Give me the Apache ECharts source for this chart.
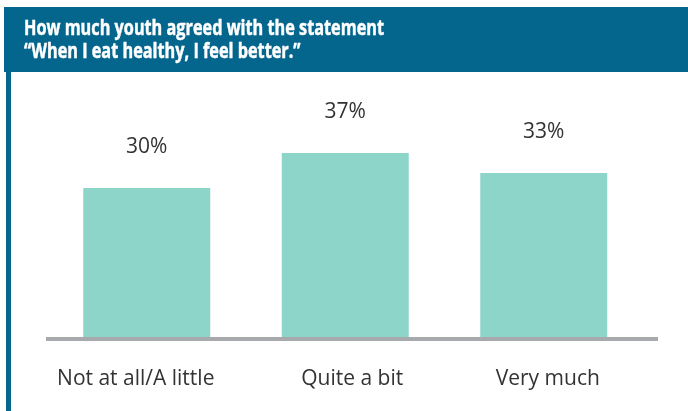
<!DOCTYPE html>
<html>
<head>
<meta charset="utf-8">
<script src="https://cdn.jsdelivr.net/npm/echarts@6/dist/echarts.min.js"></script>
<style>
  html, body { margin: 0; padding: 0; background: #ffffff; }
  #chart { width: 688px; height: 411px; }
</style>
</head>
<body>
<div id="chart"></div>
<script>
// Survey responses: share of youth by level of agreement
const categories = ['Not at all/A little', 'Quite a bit', 'Very much'];
const shares = [30, 37, 33];
const titleLines = ['How much youth agreed with the statement', '\u201cWhen I eat healthy, I feel better.\u201d'];

const BLUE = '#05668d';
const TEAL = '#8dd5c9';
const TITLE_FONT = 'bold 21px "Open Sans", sans-serif';

// Squeeze the bold title horizontally to get a condensed look
const ctx = document.createElement('canvas').getContext('2d');
ctx.font = TITLE_FONT;
const titleWidth = ctx.measureText(titleLines[0]).width;
const scaleX = 360 / titleWidth;

// small horizontal nudges for the category captions
const labelPads = [[0, 22, 0, 0], [0, 0, 0, 14], [0, 0, 0, 8]];

const chart = echarts.init(document.getElementById('chart'), null, { renderer: 'canvas' });

chart.setOption({
  animation: false,
  backgroundColor: '#ffffff',
  graphic: [
    // header band
    { type: 'rect', shape: { x: 4, y: 7, width: 684, height: 65 }, style: { fill: BLUE }, z: 1 },
    // left frame edge
    { type: 'rect', shape: { x: 6, y: 72, width: 5, height: 339 }, style: { fill: BLUE }, z: 1 },
    {
      type: 'text', x: 24, y: 18, scaleX: scaleX, z: 2,
      style: {
        text: titleLines.join('\n'),
        fill: '#ffffff',
        stroke: '#ffffff',
        lineWidth: 0.5,
        font: TITLE_FONT,
        lineHeight: 23
      }
    },
    // baseline running under the bars
    { type: 'rect', shape: { x: 46, y: 337, width: 612, height: 4 }, style: { fill: '#a7a9ac' }, z: 3 }
  ],
  grid: { left: 47.5, right: 45, top: 88, bottom: 73, containLabel: false },
  xAxis: {
    type: 'category',
    data: categories.map((c, i) => ({ value: c, textStyle: { padding: labelPads[i] } })),
    axisLine: { show: false },
    axisTick: { show: false },
    axisLabel: {
      interval: 0,
      color: '#333333',
      fontFamily: '"Open Sans", sans-serif',
      fontSize: 21,
      margin: 31
    }
  },
  yAxis: {
    type: 'value',
    min: 0,
    max: 50,
    show: false,
    splitLine: { show: false }
  },
  series: [{
    type: 'bar',
    data: shares,
    barWidth: 127,
    itemStyle: { color: TEAL },
    label: {
      show: true,
      position: 'top',
      distance: 30,
      formatter: p => p.value + '%',
      color: '#333333',
      fontFamily: '"Open Sans", sans-serif',
      fontSize: 21
    }
  }]
});
</script>
</body>
</html>
